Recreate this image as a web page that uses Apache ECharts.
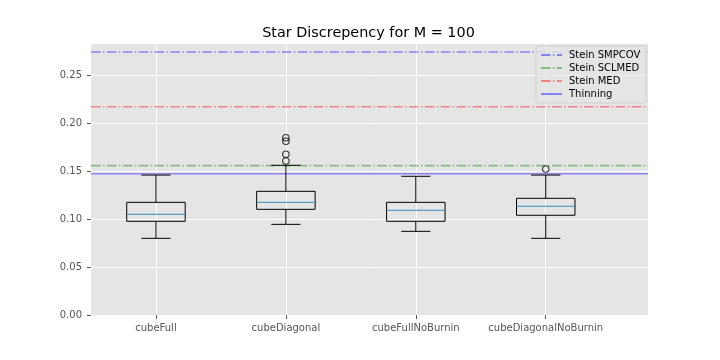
<!DOCTYPE html>
<html>
<head>
<meta charset="utf-8">
<script src="https://cdn.jsdelivr.net/npm/echarts@6/dist/echarts.min.js"></script>
<style>html,body{margin:0;padding:0;background:#fff;}#c{width:720px;height:360px;}</style>
</head>
<body>
<div id="c"></div>
<script>
// ---- data ----
const categories = ['cubeFull', 'cubeDiagonal', 'cubeFullNoBurnin', 'cubeDiagonalNoBurnin'];
const positions = [1, 2, 3, 4];
const whiskerLow = [0.0801, 0.0947, 0.0874, 0.0801];
const q1 = [0.0979, 0.1104, 0.0979, 0.1042];
const median = [0.1052, 0.1177, 0.1094, 0.1136];
const q3 = [0.1177, 0.1292, 0.1177, 0.1219];
const whiskerHigh = [0.1462, 0.1564, 0.1449, 0.1462];
const outlierPos = [2, 2, 2, 2, 4];
const outlierVal = [0.1852, 0.1815, 0.1679, 0.1609, 0.1525];
const refNames = ['Stein SMPCOV', 'Stein SCLMED', 'Stein MED', 'Thinning'];
const refValues = [0.2747, 0.1560, 0.2176, 0.1476];
const yTicks = [0, 0.05, 0.10, 0.15, 0.20, 0.25];

const X_MIN = 0.5, X_MAX = 4.787;
const refColors = ['rgba(0,0,255,0.42)', 'rgba(0,128,0,0.42)', 'rgba(255,0,0,0.42)', 'rgba(0,0,255,0.42)'];
const refDash = [[9.6, 2.4, 1.5, 2.4], [9.6, 2.4, 1.5, 2.4], [9.6, 2.4, 1.5, 2.4], 'solid'];

const boxData = positions.map((p, i) => [p, whiskerLow[i], q1[i], median[i], q3[i], whiskerHigh[i]]);
const BOXW = 0.45, CAPW = 0.225;

function renderBox(params, api) {
  const x = api.value(0), lo = api.value(1), a = api.value(2), m = api.value(3), b = api.value(4), hi = api.value(5);
  const pL = api.coord([x - BOXW / 2, b]);
  const pR = api.coord([x + BOXW / 2, a]);
  const pC = (v) => api.coord([x, v]);
  const cl = api.coord([x - CAPW / 2, 0])[0], cr = api.coord([x + CAPW / 2, 0])[0];
  const bl = pL[0], br = pR[0];
  const st = { stroke: '#000', lineWidth: 1, fill: null };
  const yLo = pC(lo)[1], yA = pC(a)[1], yM = pC(m)[1], yB = pC(b)[1], yHi = pC(hi)[1], xc = pC(m)[0];
  return {
    type: 'group',
    children: [
      { type: 'line', shape: { x1: xc, y1: yA, x2: xc, y2: yLo }, style: st },
      { type: 'line', shape: { x1: xc, y1: yB, x2: xc, y2: yHi }, style: st },
      { type: 'line', shape: { x1: cl, y1: yLo, x2: cr, y2: yLo }, style: st },
      { type: 'line', shape: { x1: cl, y1: yHi, x2: cr, y2: yHi }, style: st },
      { type: 'rect', shape: { x: bl, y: yB, width: br - bl, height: yA - yB }, style: { stroke: '#000', lineWidth: 1, fill: 'none' } },
      { type: 'line', shape: { x1: bl, y1: yM, x2: br, y2: yM }, style: { stroke: '#348ABD', lineWidth: 1 } }
    ]
  };
}

const refSeries = refNames.map((n, i) => ({
  name: n,
  type: 'line',
  symbol: 'none',
  silent: true,
  animation: false,
  lineStyle: { color: refColors[i], width: 1.6, type: refDash[i] },
  itemStyle: { color: refColors[i], opacity: 0 },
  data: [[X_MIN, refValues[i]], [X_MAX, refValues[i]]],
  z: 3
}));

const chart = echarts.init(document.getElementById('c'), null, { renderer: 'canvas' });
chart.setOption({
  animation: false,
  textStyle: { fontFamily: 'DejaVu Sans' },
  title: {
    text: 'Star Discrepency for M = 100',
    left: 363.5, textAlign: 'center', top: 21,
    textStyle: { fontSize: 14.4, fontWeight: 'normal', color: '#000', fontFamily: 'DejaVu Sans' }
  },
  grid: { left: 91, right: 72, top: 44, bottom: 45, show: true, backgroundColor: '#E5E5E5', borderWidth: 0 },
  legend: {
    data: refNames,
    orient: 'vertical',
    left: 536, top: 46,
    padding: [4, 6, 4, 4],
    itemWidth: 21, itemHeight: 12, itemGap: 3,
    itemStyle: { opacity: 0 },
    backgroundColor: 'rgba(229,229,229,0.8)',
    borderColor: 'rgba(204,204,204,0.8)', borderWidth: 1, borderRadius: 2,
    textStyle: { fontSize: 10, color: '#000', fontFamily: 'DejaVu Sans', padding: [0, 0, 0, 2] },
    selectedMode: false
  },
  xAxis: {
    type: 'value', min: X_MIN, max: X_MAX,
    axisLine: { show: false },
    axisTick: { show: true, customValues: positions, length: 4, lineStyle: { color: '#555' } },
    axisLabel: { customValues: positions, formatter: (v) => categories[Math.round(v) - 1] || '', color: '#555', fontSize: 10, margin: 8 },
    splitLine: { show: true, lineStyle: { color: '#fff', width: 1 } }
  },
  yAxis: {
    type: 'value', min: 0, max: 0.2831,
    axisLine: { show: false },
    axisTick: { show: true, customValues: yTicks, length: 4, lineStyle: { color: '#555' } },
    axisLabel: { customValues: yTicks, formatter: (v) => v.toFixed(2), color: '#555', fontSize: 10, margin: 9 },
    splitLine: { show: true, lineStyle: { color: '#fff', width: 1 } }
  },
  series: [
    ...refSeries,
    {
      type: 'custom', name: 'box', renderItem: renderBox, data: boxData, z: 4,
      encode: { x: 0, y: [1, 2, 3, 4, 5] }
    },
    {
      type: 'scatter', name: 'outliers', z: 5,
      symbol: 'circle', symbolSize: 6.5,
      itemStyle: { color: 'rgba(0,0,0,0)', borderColor: '#000', borderWidth: 1.1 },
      data: outlierPos.map((p, i) => [p, outlierVal[i]])
    }
  ]
});
</script>
</body>
</html>
